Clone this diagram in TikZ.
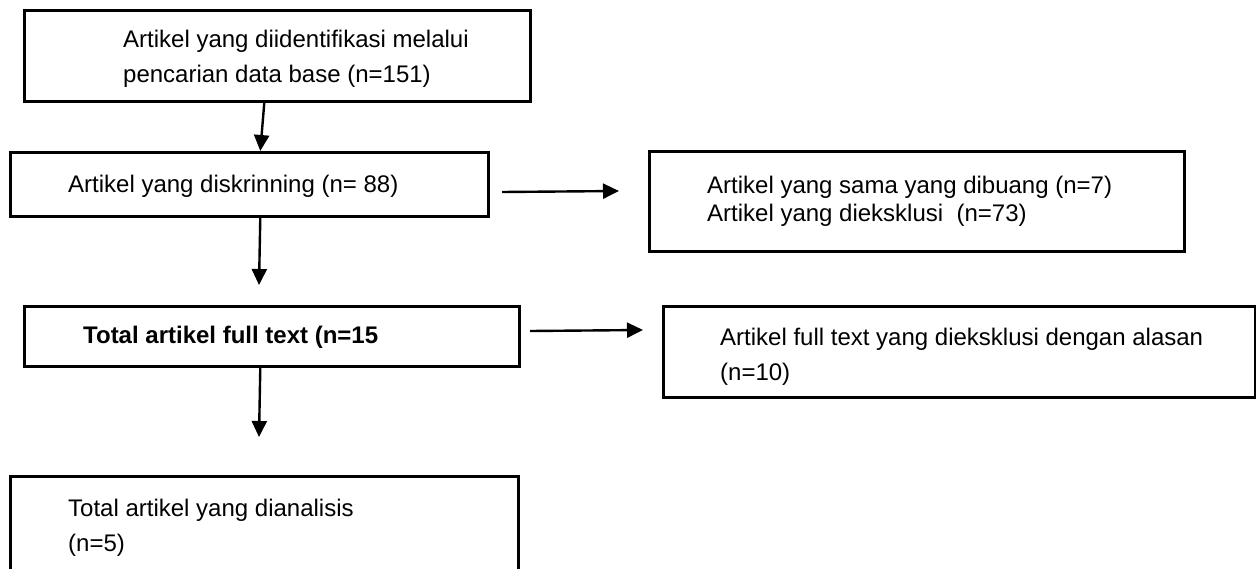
\documentclass[tikz,border=0pt]{standalone}
\usepackage{fontspec}
\setmainfont{Liberation Sans}
\usetikzlibrary{arrows.meta}
\begin{document}
\begin{tikzpicture}[x=1pt,y=-1pt,
  box/.style={draw, line width=2.6pt, inner sep=0pt, anchor=north west},
  txt/.style={anchor=base west, inner sep=0pt, font=\fontsize{24}{28}\selectfont},
  arr/.style={line width=2.4pt, -{Triangle[length=16pt,width=15pt]}}]
\useasboundingbox (0,0) rectangle (1256,568);
% boxes
\node[box, minimum width=506pt, minimum height=91pt] (b1) at (23,9) {};
\node[box, minimum width=478pt, minimum height=64pt] (b2) at (9,151) {};
\node[box, minimum width=535pt, minimum height=100pt] (b3) at (648,150) {};
\node[box, minimum width=495pt, minimum height=60pt] (b4) at (23,305) {};
\node[box, minimum width=592pt, minimum height=91pt] (b5) at (662,305) {};
\node[box, minimum width=508pt, minimum height=110pt] (b6) at (9,475) {};
% texts
\node[txt] (t1a) at (123,47) {Artikel yang diidentifikasi melalui};
\node[txt] (t1b) at (123,82) {pencarian data base (n=151)};
\node[txt] (t2) at (68,192) {Artikel yang diskrinning (n= 88)};
\node[txt] (t3a) at (707,193) {Artikel yang sama yang dibuang (n=7)};
\node[txt] (t3b) at (707,221) {Artikel yang dieksklusi\ \ (n=73)};
\node[txt, font=\fontsize{24}{28}\selectfont\bfseries] (t4) at (83,343) {Total artikel full text (n=15};
\node[txt] (t5a) at (720,345) {Artikel full text yang dieksklusi dengan alasan};
\node[txt] (t5b) at (720,380) {(n=10)};
\node[txt] (t6a) at (68,516) {Total artikel yang dianalisis};
\node[txt] (t6b) at (68,551) {(n=5)};
% connectors
\coordinate (c2s) at (502,192);
\coordinate (c2e) at (619,191);
\coordinate (c3) at (259,285);
\coordinate (c4s) at (530,331);
\coordinate (c4e) at (643,330);
\coordinate (c5) at (259,437);
\draw[arr] ([xshift=-13pt]b1.south) -- ([xshift=11pt]b2.north);
\draw[arr] (c2s) -- (c2e);
\draw[arr] ([xshift=11pt]b2.south) -- (c3);
\draw[arr] (c4s) -- (c4e);
\draw[arr] ([xshift=-11.5pt]b4.south) -- (c5);
\end{tikzpicture}
\end{document}
